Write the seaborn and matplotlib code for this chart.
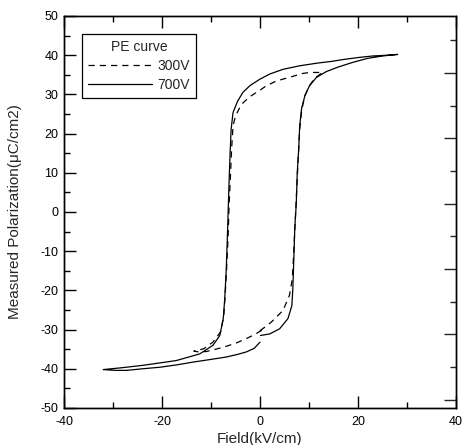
import pandas as pd
import numpy as np
import matplotlib.pyplot as plt
from matplotlib.ticker import MultipleLocator
import seaborn as sns

# PE hysteresis loops
# 700V loop: starts near 0 field, goes to +Emax, back to -Emax, back to 0
field_700 = [0.1, 2.0, 4.0, 5.7, 6.5, 6.7, 6.9, 7.1, 7.4, 7.6, 7.9, 8.1, 8.5, 9.2,
             10.1, 11.5, 13.5, 16.0, 19.0, 22.0, 25.0, 28.1,
             26.0, 23.0, 20.0, 17.0, 14.5, 11.8, 8.1, 4.7, 2.0, 0.0, -2.0, -3.5,
             -4.6, -5.5, -5.9, -6.1, -6.3, -6.5, -6.7, -6.9, -7.2, -7.5, -8.2,
             -9.6, -12.3, -17.1, -23.8, -28.0, -32.0,
             -29.5, -27.2, -24.0, -20.4, -17.0, -13.7, -10.0, -6.9, -4.5, -2.8,
             -1.2, 0.0]
pol_700 = [-31.5, -31.1, -29.8, -27.2, -23.9, -19.6, -12.0, -4.0, 2.0, 10.0, 16.0,
           22.0, 26.5, 29.8, 32.2, 34.3, 35.8, 37.0, 38.2, 39.2, 39.8, 40.2,
           40.0, 39.8, 39.4, 38.9, 38.4, 38.0, 37.3, 36.4, 35.2, 33.9, 32.3, 30.5,
           28.2, 25.4, 21.0, 15.0, 8.0, 0.0, -8.0, -15.0, -22.2, -27.2, -31.5,
           -34.0, -36.2, -37.9, -39.1, -39.7, -40.2,
           -40.4, -40.4, -40.0, -39.6, -39.0, -38.3, -37.6, -37.0, -36.3, -35.7,
           -34.8, -33.2]

# 300V loop
field_300 = [0.0, 2.3, 4.7, 6.0, 6.6, 6.9, 7.2, 7.5, 7.8, 8.1, 8.5, 9.2, 10.1,
             11.2, 12.8,
             11.8, 10.1, 8.5, 6.7, 3.3, 1.3, -0.1, -2.1, -3.5, -4.1, -5.0, -5.5,
             -5.8, -6.0, -6.3, -6.5, -6.8, -7.1, -7.4, -8.0, -9.6, -11.5, -13.5,
             -12.5, -11.0, -9.0, -7.5, -5.0, -2.8, -1.0, 0.3]
pol_300 = [-30.3, -28.1, -25.1, -21.3, -17.1, -10.0, -2.0, 6.0, 14.0, 21.0, 26.0,
           29.8, 32.2, 34.2, 35.6,
           35.6, 35.6, 35.3, 34.6, 33.4, 32.2, 31.0, 29.4, 27.8, 26.7, 24.5, 22.0,
           16.0, 10.0, 2.0, -6.0, -14.0, -21.0, -26.5, -30.5, -33.2, -34.9, -35.5,
           -35.7, -35.6, -35.0, -34.5, -33.5, -32.3, -31.2, -30.2]

curves = ['300V', '700V']

df = pd.concat([
    pd.DataFrame({'field': field_300, 'pol': pol_300, 'curve': '300V'}),
    pd.DataFrame({'field': field_700, 'pol': pol_700, 'curve': '700V'}),
], ignore_index=True)

sns.set_style('ticks')
plt.rcParams['font.family'] = ['Liberation Sans', 'DejaVu Sans']
plt.rcParams['axes.unicode_minus'] = False

fig = plt.figure(figsize=(4.63, 4.45), dpi=100)
ax = fig.add_axes([64 / 463, 37 / 445, 392 / 463, 392 / 445])

sns.lineplot(data=df, x='field', y='pol', style='curve', style_order=curves,
             dashes={'300V': (5, 4), '700V': ''}, color='black', linewidth=0.9,
             sort=False, estimator=None, ax=ax)

ax.set_xlim(-40, 40)
ax.set_ylim(-50, 50)
ax.xaxis.set_major_locator(MultipleLocator(20))
ax.xaxis.set_minor_locator(MultipleLocator(10))
ax.yaxis.set_major_locator(MultipleLocator(10))
ax.yaxis.set_minor_locator(MultipleLocator(5))
ax.tick_params(axis='both', which='both', direction='in', colors='black',
               labelsize=9, top=True, right=False, width=1)
ax.tick_params(axis='both', which='major', length=8.6)
ax.tick_params(axis='both', which='minor', length=4.3)
ax.tick_params(axis='x', pad=6)
ax.tick_params(axis='y', pad=4)

# right axis in the original has its own (unlabelled) scale
ax2 = ax.twinx()
ax2.set_ylim(-62.5, 57.5)
ax2.yaxis.set_major_locator(MultipleLocator(20))
ax2.yaxis.set_minor_locator(MultipleLocator(10))
ax2.tick_params(axis='y', which='both', direction='in', labelright=False, width=1)
ax2.tick_params(axis='y', which='major', length=8.6)
ax2.tick_params(axis='y', which='minor', length=4.3)

for a in (ax, ax2):
    for s in a.spines.values():
        s.set_color('black')
        s.set_linewidth(1)

ax.set_xlabel('Field(kV/cm)', fontsize=11)
ax.set_ylabel('Measured Polarization(\u03bcC/cm2)', fontsize=11)
ax.xaxis.set_label_coords(0.5, -0.06)
ax.yaxis.set_label_coords(-0.107, 0.5)

handles, labels = ax.get_legend_handles_labels()
leg = ax.legend(handles, labels, title='PE curve', loc='upper left',
                bbox_to_anchor=(0.045, 0.955), borderaxespad=0,
                fontsize=10, title_fontsize=10,
                handlelength=4.6, handletextpad=0.4, labelspacing=0.35,
                borderpad=0.45, fancybox=False, framealpha=1, edgecolor='black')
leg.get_frame().set_linewidth(0.9)
leg.set_zorder(5)

fig.savefig('out.png', dpi=100)
